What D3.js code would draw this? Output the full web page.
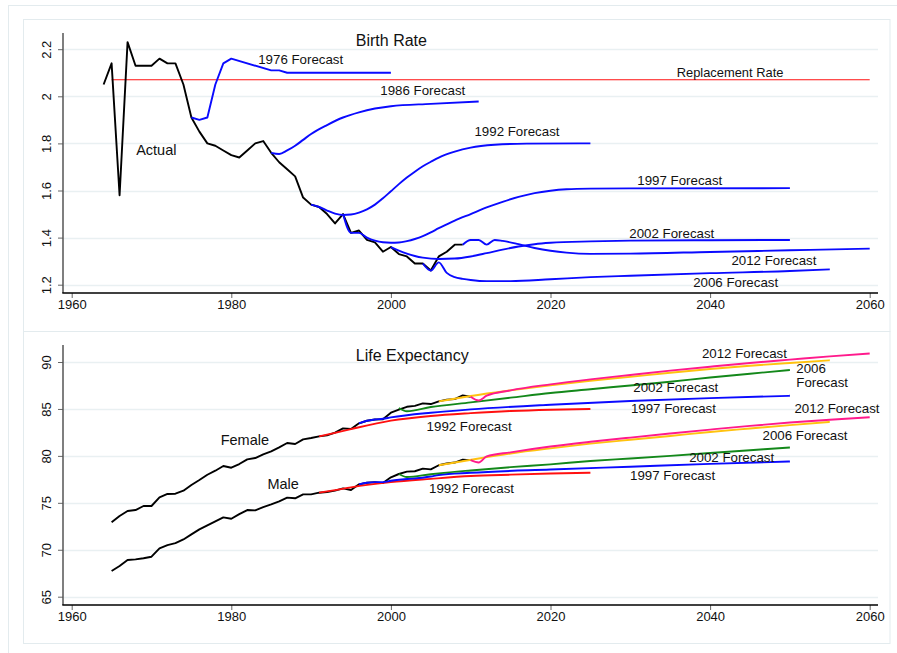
<!DOCTYPE html>
<html>
<head>
<meta charset="utf-8">
<script src="https://cdn.jsdelivr.net/npm/d3@7"></script>
<style>
  body { margin: 0; background: #fff; }
  text { font-family: Arial, "Liberation Sans", sans-serif; fill: #111; }
</style>
</head>
<body>
<script>
// ---- birth rate (total fertility) ----
var brYears = [1964,1965,1966,1967,1968,1969,1970,1971,1972,1973,1974,1975,1976,1977,1978,1979,
  1980,1981,1982,1983,1984,1985,1986,1987,1988,1989,1990,1991,1992,1993,1994,1995,1996,1997,1998,1999,
  2000,2001,2002,2003,2004,2005,2006,2007,2008,2009];
var brActual = [2.05,2.14,1.58,2.23,2.13,2.13,2.13,2.16,2.14,2.14,2.05,1.91,1.85,1.80,1.79,1.77,
  1.75,1.74,1.77,1.80,1.81,1.76,1.72,1.69,1.66,1.57,1.54,1.53,1.50,1.46,1.50,1.42,1.43,1.39,1.38,1.34,
  1.36,1.33,1.32,1.29,1.29,1.26,1.32,1.34,1.37,1.37];

var br1976 = [[1975,1.91],[1976,1.90],[1977,1.91],[1978,2.05],[1979,2.14],[1980,2.16],[1985,2.11],[1986,2.11],[1987,2.10],[2000,2.10]];
var br1986 = [[1985,1.76],[1986,1.755],[1987,1.77],[1988,1.79],[1989,1.815],[1990,1.84],[1992,1.878],[1994,1.91],[1996,1.932],
  [1998,1.948],[2000,1.958],[2005,1.968],[2011,1.978]];
var br1992 = [[1990,1.54],[1991,1.53],[1992,1.515],[1993,1.502],[1994,1.496],[1995,1.498],[1996,1.506],[1997,1.52],[1998,1.54],
  [1999,1.567],[2000,1.597],[2001,1.627],[2002,1.655],[2003,1.68],[2004,1.703],[2005,1.722],[2006,1.74],[2008,1.765],
  [2010,1.782],[2013,1.794],[2017,1.799],[2025,1.80]];
var br1997 = [[1994,1.50],[1995,1.42],[1996,1.42],[1997,1.40],[1998,1.387],[1999,1.38],[2000,1.378],[2001,1.379],[2002,1.385],
  [2003,1.394],[2004,1.406],[2005,1.422],[2006,1.44],[2007,1.456],[2008,1.472],[2010,1.50],[2012,1.528],[2014,1.552],
  [2016,1.573],[2018,1.589],[2020,1.599],[2022,1.605],[2025,1.608],[2030,1.609],[2050,1.61]];
var br2002 = [[2000,1.36],[2001,1.345],[2002,1.332],[2003,1.322],[2004,1.315],[2006,1.309],[2008,1.311],[2010,1.32],[2012,1.334],
  [2014,1.349],[2016,1.362],[2018,1.372],[2020,1.378],[2025,1.384],[2030,1.387],[2040,1.389],[2050,1.39]];
var br2006 = [[2004,1.29],[2005,1.26],[2006,1.295],[2007,1.25],[2008,1.232],[2009,1.225],[2010,1.22],[2012,1.215],[2015,1.215],
  [2020,1.223],[2025,1.232],[2030,1.238],[2040,1.249],[2050,1.258],[2055,1.265]];
var br2012 = [[2009,1.37],[2010,1.39],[2011,1.39],[2012,1.37],[2013,1.39],[2014,1.386],[2016,1.372],[2018,1.356],[2020,1.344],
  [2022,1.336],[2025,1.331],[2030,1.332],[2040,1.339],[2050,1.346],[2060,1.353]];
var replacementYears = [1965, 2060];
var replacementRate = 2.07;

// ---- life expectancy ----
var leYears = [1965,1966,1967,1968,1969,1970,1971,1972,1973,1974,1975,1976,1977,1978,1979,1980,1981,1982,1983,1984,
  1985,1986,1987,1988,1989,1990,1991,1992,1993,1994,1995,1996,1997,1998,1999,2000,2001,2002,2003,2004,
  2005,2006,2007,2008,2009,2010];
var leFemale = [72.92,73.6,74.13,74.23,74.66,74.66,75.58,75.94,75.97,76.29,76.9,77.43,77.99,78.42,78.92,78.74,79.13,79.63,79.77,80.16,
  80.48,80.91,81.37,81.26,81.76,81.9,82.08,82.19,82.47,82.93,82.86,83.47,83.74,83.88,83.9,84.6,84.93,85.23,85.33,85.59,
  85.52,85.81,85.99,86.05,86.44,86.3];
var leMale = [67.74,68.27,68.91,68.98,69.1,69.26,70.15,70.5,70.7,71.1,71.64,72.17,72.6,73.03,73.45,73.3,73.8,74.23,74.2,74.55,
  74.84,75.16,75.55,75.48,75.9,75.9,76.08,76.15,76.3,76.54,76.36,76.97,77.14,77.2,77.1,77.72,78.07,78.32,78.36,78.64,
  78.56,79.0,79.19,79.29,79.59,79.55];

var fem1992 = [[1991,82.08],[1993,82.45],[1995,82.85],[2000,83.75],[2005,84.25],[2010,84.55],[2015,84.78],[2020,84.92],[2025,85.0]];
var fem1997 = [[1996,83.47],[1997,83.74],[1998,83.88],[1999,83.95],[2000,84.1],[2005,84.6],[2010,84.95],[2020,85.45],[2030,85.85],[2040,86.15],[2050,86.4]];
var fem2002 = [[2001,85.1],[2002,84.75],[2005,85.2],[2010,85.7],[2015,86.2],[2020,86.7],[2025,87.1],[2030,87.5],[2035,87.9],[2040,88.35],[2045,88.75],[2050,89.15]];
var fem2006 = [[2006,85.81],[2010,86.38],[2015,86.98],[2020,87.52],[2025,88.0],[2030,88.42],[2035,88.85],[2040,89.25],[2045,89.6],[2050,89.9],[2055,90.18]];
var fem2012 = [[2010,86.3],[2011,85.9],[2012,86.41],[2015,86.98],[2020,87.62],[2025,88.15],[2030,88.62],[2035,89.08],[2040,89.5],[2045,89.9],[2050,90.25],[2055,90.6],[2060,90.9]];

var male1992 = [[1991,76.08],[1993,76.35],[1995,76.65],[2000,77.2],[2005,77.55],[2010,77.85],[2015,78.0],[2020,78.12],[2025,78.2]];
var male1997 = [[1996,76.97],[1997,77.14],[1998,77.2],[1999,77.2],[2000,77.35],[2005,77.8],[2006,77.96],[2010,78.2],[2020,78.55],[2030,78.85],[2040,79.15],[2050,79.4]];
var male2002 = [[2001,78.07],[2002,77.75],[2005,78.05],[2006,78.14],[2010,78.45],[2015,78.8],[2020,79.1],[2025,79.45],[2030,79.72],[2035,80.0],[2040,80.3],[2045,80.6],[2050,80.9]];
var male2006 = [[2006,79.0],[2011,79.72],[2015,80.25],[2020,80.8],[2025,81.3],[2030,81.72],[2035,82.12],[2040,82.55],[2045,82.92],[2050,83.28],[2055,83.62]];
var male2012 = [[2010,79.55],[2011,79.3],[2012,79.94],[2015,80.38],[2020,81.0],[2025,81.5],[2030,81.95],[2035,82.38],[2040,82.8],[2045,83.2],[2050,83.55],[2055,83.85],[2060,84.12]];

var xTicks = [1960, 1980, 2000, 2020, 2040, 2060];
var brTicks = [1.2, 1.4, 1.6, 1.8, 2, 2.2];
var leTicks = [65, 70, 75, 80, 85, 90];

var W = 897, H = 653;
var svg = d3.select("body").append("svg").attr("width", W).attr("height", H);

var frameColor = "#e3ebee", gridColor = "#e9f0f2";
svg.append("rect").attr("x", 8.5).attr("y", 5.5).attr("width", 900).attr("height", 660)
    .attr("fill", "none").attr("stroke", frameColor);
svg.append("rect").attr("x", 23.5).attr("y", 19.5).attr("width", 866.5).attr("height", 312)
    .attr("fill", "#fff").attr("stroke", frameColor);
svg.append("rect").attr("x", 23.5).attr("y", 331.5).attr("width", 866.5).attr("height", 312)
    .attr("fill", "#fff").attr("stroke", frameColor);

var x = d3.scaleLinear().domain([1960, 2060]).range([71.7, 869.7]);
var yTop = d3.scaleLinear().domain([1.2, 2.2]).range([284.7, 49.2]);
var yBot = d3.scaleLinear().domain([65, 90]).range([596.7, 362]);

function panel(y, yTicks, axisTop, axisBottom) {
  var g = svg.append("g");
  // grid
  g.selectAll(".grid").data(yTicks).enter().append("line")
      .attr("x1", 63).attr("x2", 878)
      .attr("y1", function(d) { return Math.round(y(d)) + 0.5; })
      .attr("y2", function(d) { return Math.round(y(d)) + 0.5; })
      .attr("stroke", gridColor).attr("stroke-width", 1.5);

  var ya = g.append("g").attr("transform", "translate(63,0)")
      .call(d3.axisLeft(y).tickValues(yTicks).tickSize(5).tickSizeOuter(0).tickFormat(d3.format("")));
  ya.select(".domain").remove();
  ya.selectAll("line").attr("stroke", "#666");
  ya.selectAll("text")
      .attr("x", 0).attr("y", -12).attr("dy", 0)
      .attr("transform", "rotate(-90)")
      .attr("text-anchor", "middle")
      .style("font-size", "13px").style("font-family", "Arial, 'Liberation Sans', sans-serif");
  g.append("line").attr("x1", 63).attr("x2", 63).attr("y1", axisTop).attr("y2", axisBottom)
      .attr("stroke", "#555").attr("stroke-width", 1.5);

  var xa = g.append("g").attr("transform", "translate(0," + axisBottom + ")")
      .call(d3.axisBottom(x).tickValues(xTicks).tickSize(5).tickSizeOuter(0).tickFormat(d3.format("d")));
  xa.select(".domain").remove();
  xa.selectAll("line").attr("stroke", "#666");
  xa.selectAll("text").attr("y", 7)
      .style("font-size", "13px").style("font-family", "Arial, 'Liberation Sans', sans-serif");
  g.append("line").attr("x1", 62.3).attr("x2", 878).attr("y1", axisBottom).attr("y2", axisBottom)
      .attr("stroke", "#000").attr("stroke-width", 1.5);
  return g;
}

panel(yTop, brTicks, 33, 293);
panel(yBot, leTicks, 345, 605);

function drawLine(y, pts, color, width, curve) {
  var line = d3.line()
      .x(function(d) { return x(d[0]); })
      .y(function(d) { return y(d[1]); })
      .curve(curve || d3.curveMonotoneX);
  svg.append("path").datum(pts)
      .attr("d", line)
      .attr("fill", "none")
      .attr("stroke", color)
      .attr("stroke-width", width || 1.9)
      .attr("stroke-linejoin", "round");
}

function zip(years, vals) {
  return years.map(function(yr, i) { return [yr, vals[i]]; });
}

var BLUE = "#0a0aff", RED = "#ff1010", GREEN = "#13881a", GOLD = "#ffc20e", PINK = "#ff1a8c";

// top panel
drawLine(yTop, replacementYears.map(function(yr) { return [yr, replacementRate]; }), RED, 1.1, d3.curveLinear);
drawLine(yTop, zip(brYears, brActual), "#000", 1.9, d3.curveLinear);
drawLine(yTop, br1976, BLUE, 1.9, d3.curveLinear);
drawLine(yTop, br1986, BLUE);
drawLine(yTop, br1992, BLUE);
drawLine(yTop, br1997, BLUE);
drawLine(yTop, br2002, BLUE);
drawLine(yTop, br2006, BLUE);
drawLine(yTop, br2012, BLUE);

// bottom panel
drawLine(yBot, zip(leYears, leFemale), "#000", 1.9, d3.curveLinear);
drawLine(yBot, zip(leYears, leMale), "#000", 1.9, d3.curveLinear);
[[fem1992, male1992, RED], [fem1997, male1997, BLUE], [fem2002, male2002, GREEN],
 [fem2006, male2006, GOLD], [fem2012, male2012, PINK]].forEach(function(s) {
  drawLine(yBot, s[0], s[2]);
  drawLine(yBot, s[1], s[2]);
});

// labels: [text, year, value, size, anchor]
var topLabels = [
  ["Birth Rate", 1995.6, 2.236, 16, "start"],
  ["1976 Forecast", 1988.7, 2.157, 13.3, "middle"],
  ["Replacement Rate", 2042.5, 2.102, 12.9, "middle"],
  ["1986 Forecast", 2004.0, 2.025, 13.3, "middle"],
  ["1992 Forecast", 2015.8, 1.851, 13.3, "middle"],
  ["Actual", 1970.6, 1.772, 14.5, "middle"],
  ["1997 Forecast", 2036.2, 1.643, 13.3, "middle"],
  ["2002 Forecast", 2035.2, 1.418, 13.3, "middle"],
  ["2012 Forecast", 2048.0, 1.305, 13.3, "middle"],
  ["2006 Forecast", 2043.2, 1.210, 13.3, "middle"]
];
var botLabels = [
  ["Life Expectancy", 1995.6, 90.67, 16, "start"],
  ["Female", 1981.7, 81.69, 14.5, "middle"],
  ["Male", 1986.5, 77.0, 14.5, "middle"],
  ["1992 Forecast", 2009.8, 83.21, 13.3, "middle"],
  ["1992 Forecast", 2010.1, 76.54, 13.3, "middle"],
  ["1997 Forecast", 2035.4, 85.06, 13.3, "middle"],
  ["2002 Forecast", 2035.7, 87.3, 13.3, "middle"],
  ["2012 Forecast", 2044.3, 90.92, 13.3, "middle"],
  ["2006", 2050.8, 89.39, 13.3, "start"],
  ["Forecast", 2050.8, 87.9, 13.3, "start"],
  ["2012 Forecast", 2055.9, 85.13, 13.3, "middle"],
  ["2006 Forecast", 2051.9, 82.19, 13.3, "middle"],
  ["2002 Forecast", 2042.7, 79.88, 13.3, "middle"],
  ["1997 Forecast", 2035.3, 77.93, 13.3, "middle"]
];

function labels(y, data) {
  svg.append("g").selectAll("text").data(data).enter().append("text")
      .attr("x", function(d) { return x(d[1]); })
      .attr("y", function(d) { return y(d[2]); })
      .attr("dy", "0.36em")
      .attr("text-anchor", function(d) { return d[4]; })
      .style("font-size", function(d) { return d[3] + "px"; })
      .text(function(d) { return d[0]; });
}
labels(yTop, topLabels);
labels(yBot, botLabels);
</script>
</body>
</html>
